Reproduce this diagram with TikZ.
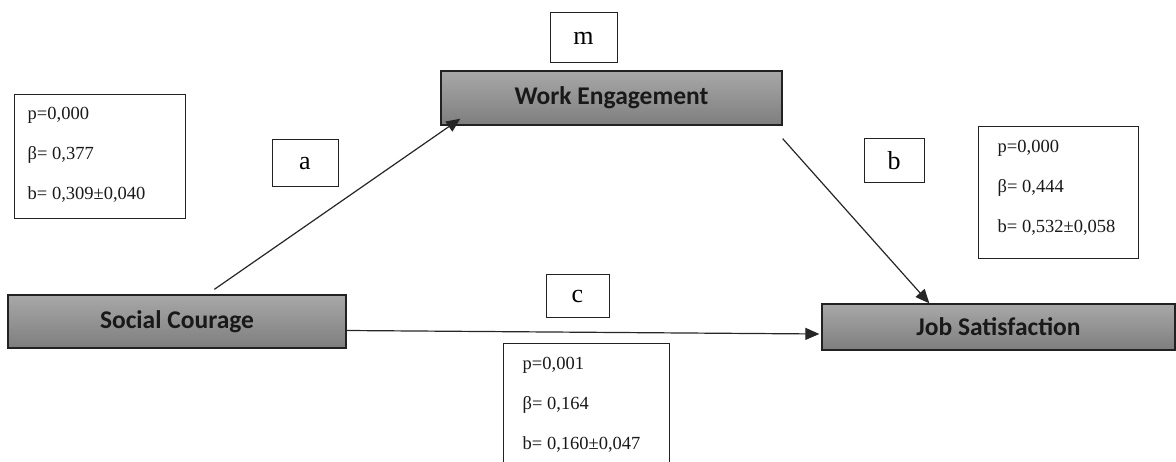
\documentclass[tikz,border=0pt]{standalone}
\usepackage{fontspec}
\setmainfont{Liberation Serif}
\newfontfamily\boxfont{Carlito}
\usetikzlibrary{arrows.meta,calc}
\definecolor{boxtop}{HTML}{A8A8A8}
\definecolor{boxbot}{HTML}{7E7E7E}
\definecolor{edge}{HTML}{222222}
\tikzset{
  varbox/.style={draw=edge, line width=1.3pt, rectangle, top color=boxtop, bottom color=boxbot,
    font=\boxfont\bfseries\fontsize{25.5}{28}\selectfont, text=black!90, inner sep=0pt},
  letterbox/.style={draw=edge, line width=1pt, rectangle, fill=white, inner sep=0pt,
    font=\fontsize{26}{28}\selectfont},
  statsbox/.style={draw=edge, line width=1pt, rectangle, fill=white, inner sep=0pt},
  statstext/.style={align=left, inner sep=0pt, font=\fontsize{18.5}{40}\selectfont, text=black!90},
  conn/.style={line width=1.2pt, draw=black!85, -{Triangle[length=14pt,width=12pt]}}
}
\begin{document}
\begin{tikzpicture}[x=1pt,y=-1pt]
\useasboundingbox (0,0) rectangle (1176,462);
\clip (0,0) rectangle (1176,462);
% main variable boxes
\node[varbox, minimum width=338pt, minimum height=53pt] (sc) at (177,321.5) {Social Courage};
\node[varbox, minimum width=341pt, minimum height=54pt] (we) at (611.5,98) {Work Engagement};
\node[varbox, minimum width=353pt, minimum height=46pt] (js) at (998.5,327) {Job Satisfaction};
% letter boxes
\node[letterbox, minimum width=67pt, minimum height=50pt] (m) at (583.5,38) {m};
\node[letterbox, minimum width=66pt, minimum height=47pt] (a) at (305,163.5) {a};
\node[letterbox, minimum width=60pt, minimum height=44pt] (b) at (894,161) {b};
\node[letterbox, minimum width=63pt, minimum height=43pt] (c) at (577.5,296.5) {c};
% stats boxes
\node[statsbox, minimum width=171pt, minimum height=124pt] (sa) at (99.5,157) {};
\node[statstext, anchor=west] (sat) at ([xshift=14pt,yshift=2pt]sa.west) {p=0,000\\β= 0,377\\b= 0,309±0,040};
\node[statsbox, minimum width=160pt, minimum height=132pt] (sb) at (1058,193) {};
\node[statstext, anchor=west] (sbt) at ([xshift=20pt,yshift=5pt]sb.west) {p=0,000\\β= 0,444\\b= 0,532±0,058};
\node[statsbox, minimum width=166pt, minimum height=140pt] (scx) at (586,414) {};
\node[statstext, anchor=north west] (sct) at ([xshift=20pt,yshift=-13pt]scx.north west) {p=0,001\\β= 0,164\\b= 0,160±0,047};
% connectors
\draw[conn] ([shift={(207pt,5pt)}]sc.north west) -- ([shift={(20pt,7pt)}]we.south west);
\draw[conn] ([shift={(0pt,-13pt)}]we.south east) -- ([shift={(108pt,0pt)}]js.north west);
\draw[conn] ([shift={(0pt,-9pt)}]sc.east) -- ([shift={(-2pt,-7pt)}]js.west);
\end{tikzpicture}
\end{document}
